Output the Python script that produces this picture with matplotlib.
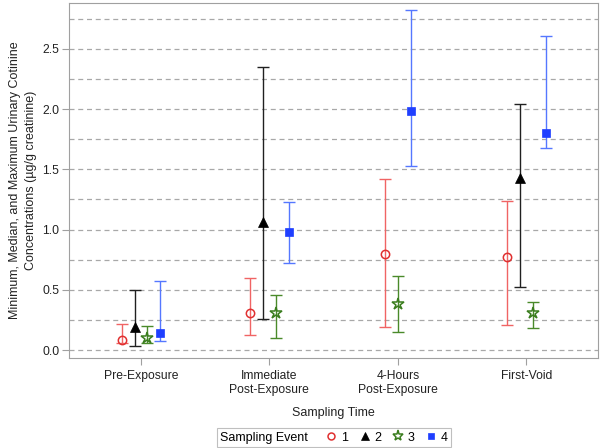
import numpy as np
import matplotlib
matplotlib.use('Agg')
import matplotlib.pyplot as plt
from matplotlib.lines import Line2D
from matplotlib.offsetbox import HPacker

plt.rcParams['font.family'] = ['Liberation Sans', 'DejaVu Sans']

# dados
tempos = ['Pre-Exposure', 'Immediate\nPost-Exposure', '4-Hours\nPost-Exposure', 'First-Void']
eventos = ['1', '2', '3', '4']

# mediana, minimo, maximo por evento (nan = sem dado)
med_1 = [0.08, 0.305, 0.795, 0.77]
min_1 = [0.055, 0.125, 0.19, 0.205]
max_1 = [0.22, 0.60, 1.42, 1.24]

med_2 = [0.19, 1.06, np.nan, 1.43]
min_2 = [0.036, 0.26, np.nan, 0.52]
max_2 = [0.50, 2.35, np.nan, 2.04]

med_3 = [0.10, 0.31, 0.38, 0.305]
min_3 = [0.06, 0.10, 0.15, 0.18]
max_3 = [0.20, 0.455, 0.615, 0.40]

med_4 = [0.14, 0.98, 1.985, 1.80]
min_4 = [0.072, 0.72, 1.53, 1.68]
max_4 = [0.57, 1.23, 2.82, 2.61]

medianas = [med_1, med_2, med_3, med_4]
minimos = [min_1, min_2, min_3, min_4]
maximos = [max_1, max_2, max_3, max_4]

estilos = [
    dict(marker='o', mfc='none', mec='#e03030', ms=6, mew=1.1, linha='#f06464'),
    dict(marker='^', mfc='black', mec='black', ms=7, mew=0.5, linha='#202020'),
    dict(marker='*', mfc='none', mec='#3a7d1e', ms=9, mew=1.1, linha='#4a8a2a'),
    dict(marker='s', mfc='#1f3fff', mec='#1f3fff', ms=6, mew=0.5, linha='#5577ff'),
]

fig = plt.figure(figsize=(6, 4.48), dpi=100)
ax = fig.add_axes([0.115, 0.201, 0.882, 0.792])

passo = 0.1
for i in range(len(tempos)):
    # eventos presentes neste tempo, agrupados em torno do centro
    presentes = [k for k in range(4) if not np.isnan(medianas[k][i])]
    n = len(presentes)
    for j, k in enumerate(presentes):
        x = i + (j - (n - 1) / 2) * passo
        m = medianas[k][i]
        st = estilos[k]
        ax.errorbar([x], [m], yerr=[[m - minimos[k][i]], [maximos[k][i] - m]],
                    fmt='none', ecolor=st['linha'], elinewidth=1.0, capsize=4,
                    capthick=1.0, zorder=2)
        ax.plot([x], [m], linestyle='none', marker=st['marker'], mfc=st['mfc'],
                mec=st['mec'], ms=st['ms'], mew=st['mew'], zorder=3)

ax.set_xlim(-0.56, 3.56)
ax.set_ylim(-0.066, 2.88)
ax.set_xticks(range(len(tempos)))
ax.set_xticklabels(tempos, fontsize=8.7, color='#222222')
ax.set_yticks(np.arange(0, 2.51, 0.5))
ax.set_yticklabels([f'{v:.1f}' for v in np.arange(0, 2.51, 0.5)], fontsize=8.7, color='#222222')
ax.set_yticks(np.arange(0, 2.76, 0.25), minor=True)
ax.tick_params(axis='y', which='major', length=5, color='#a0a0a0', pad=2)
ax.tick_params(axis='y', which='minor', length=0)
ax.tick_params(axis='x', length=5, color='#a0a0a0', pad=4)
ax.yaxis.grid(True, which='both', linestyle=(0, (4, 3)), color='#a8a8a8', linewidth=0.9)
ax.set_axisbelow(True)
for s in ax.spines.values():
    s.set_color('#a0a0a0')

ax.set_xlabel('Sampling Time', fontsize=9, labelpad=8, color='#222222')
ax.set_ylabel('Minimum, Median, and Maximum Urinary Cotinine\nConcentrations (\u00b5g/g creatinine)',
              fontsize=9, labelpad=4, color='#222222', linespacing=1.4)

# legenda com titulo na mesma linha
handles = []
for k, st in enumerate(estilos):
    handles.append(Line2D([], [], linestyle='none', marker=st['marker'], mfc=st['mfc'],
                          mec=st['mec'], ms=st['ms'] - 1, mew=st['mew']))
leg = fig.legend(handles, eventos, loc='center', bbox_to_anchor=(0.557, 0.0234), ncol=4,
                 title='Sampling Event', title_fontsize=9,
                 fontsize=9, frameon=True, fancybox=False, edgecolor='#b0b0b0',
                 handlelength=0.8, handletextpad=0.4, columnspacing=0.9,
                 borderpad=0.25, borderaxespad=0)
leg.get_frame().set_linewidth(0.8)
# poe o titulo ao lado das entradas
leg._legend_box = HPacker(pad=0.25 * 9, sep=13, align='center',
                          children=[leg._legend_title_box, leg._legend_handle_box])
leg._legend_box.set_figure(fig)
leg._set_loc(leg._loc)

fig.savefig('out.png', dpi=100)
